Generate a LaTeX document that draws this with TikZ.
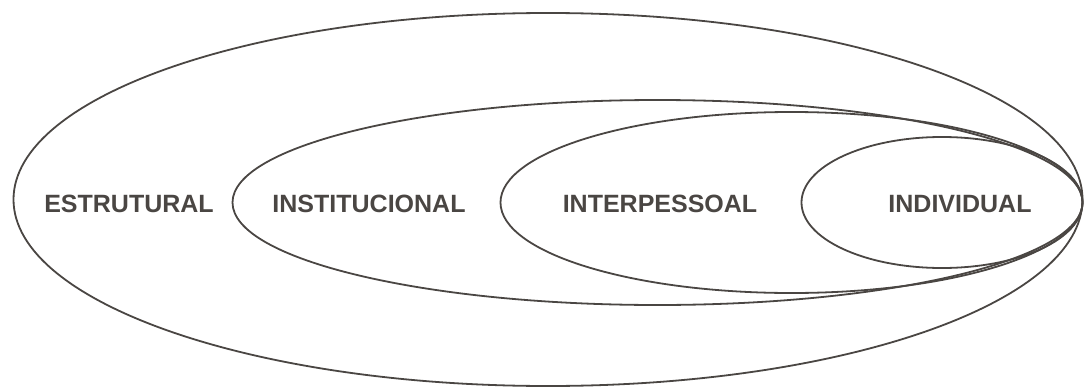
\documentclass[tikz,border=0pt]{standalone}
\usepackage{fontspec}
\setmainfont{Liberation Sans}
\definecolor{ink}{HTML}{4A4643}
\begin{document}
\begin{tikzpicture}[x=1pt,y=-1pt,
  ring/.style={draw=ink,line width=1.8pt},
  lbl/.style={text=ink,font=\bfseries\fontsize{25}{28}\selectfont,inner sep=0pt,anchor=center}]
\useasboundingbox (0,0) rectangle (1084,388);
\draw[ring] (548,199.5) ellipse [x radius=534.5,y radius=186.5];
\draw[ring] (657.5,202.5) ellipse [x radius=425,y radius=102.5];
\draw[ring] (791.5,202.5) ellipse [x radius=291,y radius=90.5];
\draw[ring] (942,202.5) ellipse [x radius=140.5,y radius=65.5];
\node[lbl] (estrutural) at (129,204) {ESTRUTURAL};
\node[lbl] (institucional) at (369,204) {INSTITUCIONAL};
\node[lbl] (interpessoal) at (660,204) {INTERPESSOAL};
\node[lbl] (individual) at (960,204) {INDIVIDUAL};
\end{tikzpicture}
\end{document}
